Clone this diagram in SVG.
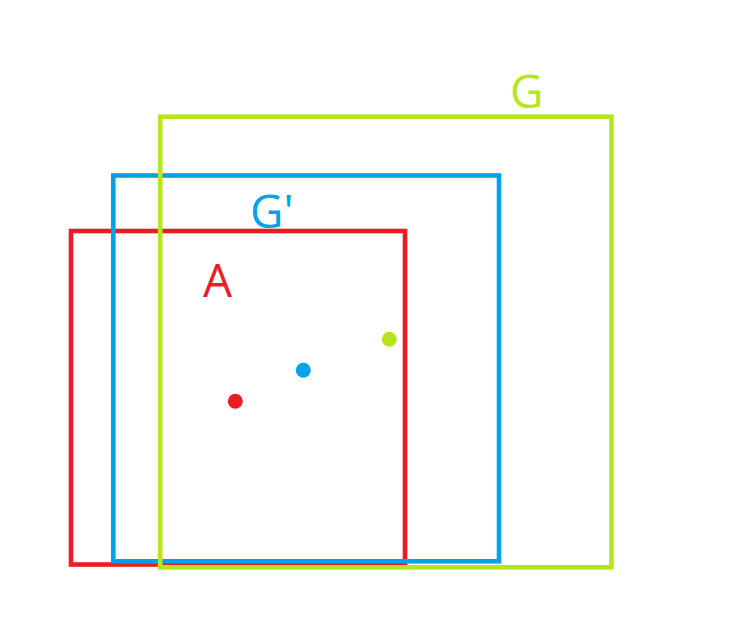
<svg xmlns="http://www.w3.org/2000/svg" width="738" height="643" viewBox="0 0 738 643">
<style>
.box{fill:none;stroke-width:4.6}
.lbl{font-family:"Open Sans","Noto Sans","Liberation Sans",sans-serif;font-size:46px}
.r{stroke:#ED1C24}.b{stroke:#00A2E8}.g{stroke:#B5E61D}
</style>
<rect width="738" height="643" fill="#fff"/>
<g id="A">
<rect class="box r" x="71" y="231" width="334" height="333.5"/>
<text class="lbl" x="203" y="297" fill="#ED1C24">A</text>
<circle cx="235.3" cy="401.3" r="7.5" fill="#ED1C24"/>
</g>
<g id="Gprime">
<rect class="box b" x="113.3" y="175.5" width="385.7" height="385.8"/>
<text class="lbl" x="250" y="228" fill="#00A2E8">G'</text>
<circle cx="303.3" cy="370.3" r="7.5" fill="#00A2E8"/>
</g>
<g id="G">
<rect class="box g" x="160.2" y="116.7" width="451.3" height="450.6"/>
<text class="lbl" x="510" y="108" fill="#B5E61D">G</text>
<circle cx="389.3" cy="339.3" r="7.5" fill="#B5E61D"/>
</g>
<g id="connectors"></g>
</svg>
